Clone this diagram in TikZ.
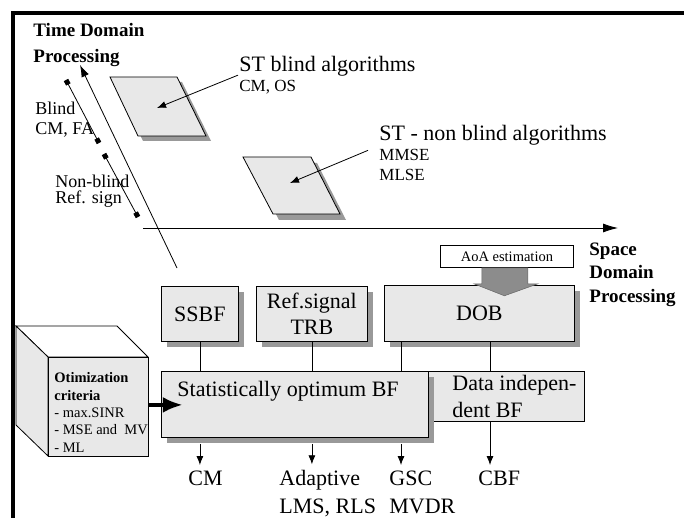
\documentclass[tikz,border=0pt]{standalone}
\usepackage{fontspec}
\setmainfont{Liberation Serif}
\usetikzlibrary{arrows.meta,shadows}

\newcommand{\fsz}[2]{\fontsize{#1}{#2}\selectfont}

\begin{document}
\begin{tikzpicture}[x=1pt,y=-1pt,line width=0.8pt]
\useasboundingbox (0,0) rectangle (684,518);
\tikzstyle{every node}=[inner sep=1pt];
\tikzstyle{box}=[draw,fill=black!9,anchor=north west,align=center,font=\fsz{22}{26}];
\tikzstyle{shade}=[drop shadow={shadow xshift=6pt,shadow yshift=-6pt,fill=black!40,opacity=1}];
\tikzstyle{arr}=[-{Latex[length=9pt,width=7pt]}];
\tikzstyle{bold}=[font=\fsz{19}{26}\bfseries,align=left,anchor=base west];
\tikzstyle{txt}=[align=left,anchor=base west];

% axes
\draw[-{Latex[length=12pt,width=8pt]}] (177,268) -- (80,65);
\draw[{Square[length=5pt,width=5pt]}-{Square[length=5pt,width=5pt]}] (66,80) -- (99,143);
\draw[{Square[length=5pt,width=5pt]}-{Square[length=5pt,width=5pt]}] (104,154) -- (138,217);
\draw[-{Latex[length=15pt,width=9pt]}] (143,228) -- (618,228);

% base of a multi-line node = baseline of its last line
\path (32,63) node[bold] (v0) {Time Domain\\Processing};
\path (588,302) node[bold,font=\fsz{19}{23.5}\bfseries] (v1) {Space\\Domain\\Processing};
\path (34,135) node[txt,font=\fsz{18}{20}] (v2) {Blind\\CM, FA};
\path (54,204) node[txt,font=\fsz{18}{16.5}] (v3) {Non-blind\\Ref. sign};

% parallelograms
\fill[black!40,shift={(5,5)}] (110,77) -- (177,77) -- (206,136) -- (138,136) -- cycle;
\filldraw[fill=black!9] (110,77) -- (177,77) -- (206,136) -- (138,136) -- cycle;
\fill[black!40,shift={(6,6)}] (243,157) -- (311,157) -- (340,214) -- (273,214) -- cycle;
\filldraw[fill=black!9] (243,157) -- (311,157) -- (340,214) -- (273,214) -- cycle;
\coordinate (p0) at (157,108);
\coordinate (p1) at (290,183);

\path (238,72) node[txt,font=\fsz{22}{26}] (v4) {ST blind algorithms};
\path (238,92) node[txt,font=\fsz{17}{20}] (v5) {CM, OS};
\path (378,141) node[txt,font=\fsz{22}{26}] (v6) {ST - non blind algorithms};
\path (378,181) node[txt,font=\fsz{17}{20}] (v7) {MMSE\\MLSE};
\draw[arr] ([yshift=3pt]v4.south west) -- (p0);
\draw[arr] ([xshift=-10pt,yshift=-2pt]v7.north west) -- (p1);

% boxes
\path (161,286) node[box,shade,minimum width=77,minimum height=55] (v8) {SSBF};
\path (256,286) node[box,shade,minimum width=111,minimum height=55] (v9) {Ref.signal\\TRB};
\path (384,285) node[box,shade,minimum width=190,minimum height=56] (v10) {DOB};
\path (440,245) node[box,fill=white,minimum width=133,minimum height=22,font=\fsz{14.5}{17}] (v11) {AoA estimation};
\filldraw[fill=black!45,draw=black!60,line width=0.5pt] ([xshift=-25pt]v11.south) -- ++(46,0) -- ++(0,16) -- ++(10,0)
  -- ++(-33.5,12) -- ++(-30.5,-12) -- ++(8,0) -- cycle;

\path (417,371) node[box,minimum width=167,minimum height=50] (v12) {};
\path (451,417) node[txt,font=\fsz{22}{27}] (v13) {Data indepen-\\dent BF};
\path (161,371) node[box,shade,minimum width=267,minimum height=66] (v14) {};
\path (176,396) node[txt,font=\fsz{22}{26}] (v15) {Statistically optimum BF};

% cube
\filldraw[fill=white] (16,326) -- (117,326) -- (148,357) -- (48,357) -- cycle;
\filldraw[fill=black!9] (16,326) -- (48,357) -- (48,456) -- (16,425) -- cycle;
\path (48,357) node[box,minimum width=100,minimum height=99] (v16) {};
\path (53,452) node[txt,font=\fsz{14.5}{17.3}] (v17) {\textbf{Otimization}\\\textbf{criteria}\\- max.SINR\\- MSE and~ MV\\- ML};
\draw[line width=4pt,-{Latex[length=20pt,width=16pt]}] ([yshift=2pt]v16.east) -- ++(34,0);

% connectors
\draw (v8.south) -- (v8.south |- v14.north);
\draw (v9.south) -- (v9.south |- v14.north);
\draw ([xshift=17pt]v10.south west) -- ([xshift=17pt]v10.south west |- v14.north);
\draw ([xshift=106pt]v10.south west) -- ([xshift=106pt]v10.south west |- v12.north);

% results
\path (187,485) node[txt,font=\fsz{22}{28}] (v18) {CM};
\path (278,513) node[txt,font=\fsz{22}{28}] (v19) {Adaptive\\LMS, RLS};
\path (388,513) node[txt,font=\fsz{22}{28}] (v20) {GSC\\MVDR};
\path (477,485) node[txt,font=\fsz{22}{28}] (v21) {CBF};
\draw[arr] ([yshift=-6pt]v8.south |- v14.south) -- ([yshift=4pt]v8.south |- v18.north);
\draw[arr] ([yshift=-6pt]v9.south |- v14.south) -- ([yshift=4pt]v9.south |- v19.north);
\draw[arr] ([xshift=17pt,yshift=-6pt]v10.south west |- v14.south) -- ([xshift=17pt,yshift=4pt]v10.south west |- v20.north);
\draw[arr] ([xshift=106pt]v10.south west |- v12.south) -- ([xshift=106pt,yshift=4pt]v10.south west |- v21.north);

% frame
\draw[line width=4pt] (684,13) -- (13,13) -- (13,518);
\end{tikzpicture}
\end{document}
